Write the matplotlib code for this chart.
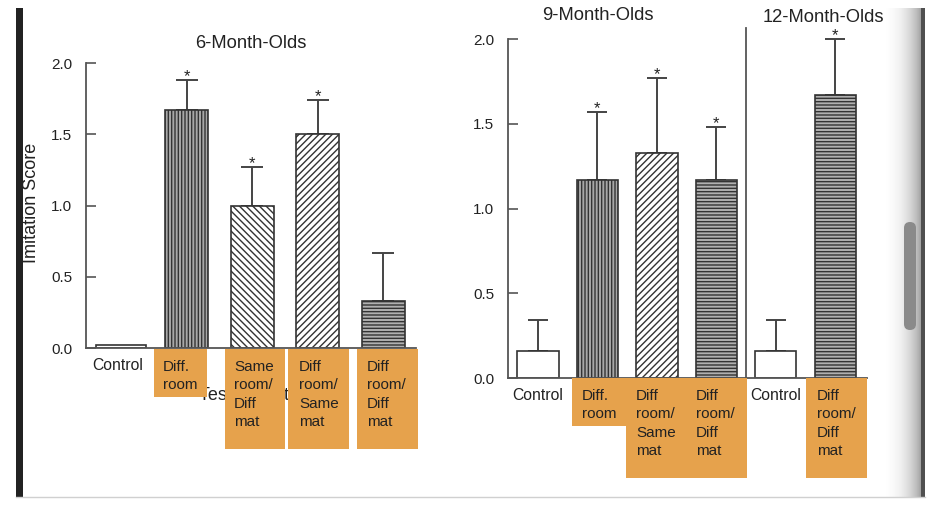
import numpy as np
import matplotlib
matplotlib.use('Agg')
import matplotlib.pyplot as plt
from matplotlib.patches import Rectangle, FancyBboxPatch

plt.rcParams['font.family'] = ['Liberation Sans', 'DejaVu Sans']
plt.rcParams['hatch.linewidth'] = 1.0

# data
six_labels = ['Control', 'Diff.\nroom', 'Same\nroom/\nDiff\nmat', 'Diff\nroom/\nSame\nmat', 'Diff\nroom/\nDiff\nmat']
six_means = [0.02, 1.67, 1.00, 1.50, 0.33]
six_upper = [np.nan, 1.88, 1.27, 1.74, 0.67]
six_star = [False, True, True, True, False]

nine_labels = ['Control', 'Diff.\nroom', 'Diff\nroom/\nSame\nmat', 'Diff\nroom/\nDiff\nmat']
nine_means = [0.16, 1.17, 1.33, 1.17]
nine_upper = [0.34, 1.57, 1.77, 1.48]
nine_star = [False, True, True, True]

twelve_labels = ['Control', 'Diff\nroom/\nDiff\nmat']
twelve_means = [0.16, 1.67]
twelve_upper = [0.34, 2.00]
twelve_star = [False, True]

yticks = [0.0, 0.5, 1.0, 1.5, 2.0]

# bar styles: (face, hatch)
style = {
    'Control': ('white', ''),
    'Diff.\nroom': ('#a8a8a8', '|||||'),
    'Same\nroom/\nDiff\nmat': ('white', '\\\\\\\\\\'),
    'Diff\nroom/\nSame\nmat': ('white', '/////'),
    'Diff\nroom/\nDiff\nmat': ('#b0b0b0', '-----'),
}

W, H = 943, 511
fig = plt.figure(figsize=(W / 100, H / 100), dpi=100)
fig.patch.set_facecolor('white')


def px_rect(x0, y_top, x1, y_bot):
    return [x0 / W, 1 - y_bot / H, (x1 - x0) / W, (y_bot - y_top) / H]


def style_axes(ax, pad):
    for s in ['top', 'right']:
        ax.spines[s].set_visible(False)
    for s in ['left', 'bottom']:
        ax.spines[s].set_color('#555555')
        ax.spines[s].set_linewidth(1.3)
    ax.set_ylim(0, 2.0)
    ax.set_yticks(yticks)
    ax.set_yticklabels([f'{t:.1f}' for t in yticks])
    ax.tick_params(axis='y', direction='in', length=7, width=1.2, color='#555555',
                   labelsize=11, labelcolor='#222222', pad=pad)
    ax.tick_params(axis='x', length=0, labelsize=11.3, labelcolor='#222222', pad=7)
    ax.patch.set_alpha(0)


def draw_bars(ax, pos, labels, means, upper, stars, widths, capsize):
    for x, lab, m, w in zip(pos, labels, means, widths):
        face, hatch = style[lab]
        ax.bar(x, m, width=w, color=face, edgecolor='#333333', hatch=hatch, linewidth=1.2, zorder=2)
    up = np.array(upper, dtype=float)
    mean = np.array(means, dtype=float)
    ok = ~np.isnan(up)
    ax.errorbar(np.array(pos)[ok], mean[ok], yerr=[np.zeros(ok.sum()), (up - mean)[ok]],
                fmt='none', ecolor='#444444', elinewidth=1.4, capsize=capsize, capthick=1.4,
                zorder=1, clip_on=False)
    for x, u, s in zip(pos, up, stars):
        if s:
            ax.annotate('*', (x, u), xytext=(0, -3), textcoords='offset points',
                        ha='center', va='bottom', fontsize=12, color='#222222',
                        annotation_clip=False)


# 6-month panel
ax1 = fig.add_axes(px_rect(86, 63, 416, 348))
pos1 = np.arange(len(six_labels))
ax1.set_xlim(-0.534, 4.50)
draw_bars(ax1, pos1, six_labels, six_means, six_upper, six_star,
          [0.76] + [0.655] * 4, 8)
style_axes(ax1, 10)
ax1.set_xticks([-0.05])
ax1.set_xticklabels(['Control'])
ax1.set_title('6-Month-Olds', fontsize=13.2, color='#222222', pad=11)

# 9 and 12-month panel
ax2 = fig.add_axes(px_rect(508, 39, 867, 378))
pos2 = np.arange(len(nine_labels) + len(twelve_labels))
ax2.set_xlim(-0.504, 5.53)
draw_bars(ax2, pos2, nine_labels + twelve_labels, nine_means + twelve_means,
          nine_upper + twelve_upper, nine_star + twelve_star, [0.69] * 6, 7)
style_axes(ax2, 10)
ax2.set_xticks([0, len(nine_labels)])
ax2.set_xticklabels(['Control', 'Control'])
ax2.axvline(len(nine_labels) - 0.5, ymin=0, ymax=1.033, color='#555555', lw=1.3, clip_on=False)

# overlay in pixel coordinates for the screenshot decorations
ov = fig.add_axes([0, 0, 1, 1])
ov.set_xlim(0, W)
ov.set_ylim(H, 0)
ov.axis('off')
ov.patch.set_alpha(0)
ov.set_zorder(10)

ov.text(598, 15, '9-Month-Olds', fontsize=13.2, color='#222222', ha='center', va='center')
ov.text(823, 18, '12-Month-Olds', fontsize=13.2, color='#222222', ha='center', va='center')
ov.text(31, 203, 'Imitation Score', fontsize=13, color='#222222', rotation=90,
        ha='center', va='center')
ov.text(256, 396, 'Test Condition', fontsize=13, color='#222222', ha='center', va='center')

orange = '#e6a24c'
boxes = [(154, 349, 207, 397), (225, 349, 285, 449), (288, 349, 349, 449), (357, 349, 418, 449),
         (572, 378, 626, 426), (626, 378, 747, 478), (806, 378, 867, 478)]
for x0, y0, x1, y1 in boxes:
    ov.add_patch(Rectangle((x0, y0), x1 - x0, y1 - y0, facecolor=orange, edgecolor='none', zorder=3))

box_text_x = [163, 234, 299, 367]
for x, lab in zip(box_text_x, six_labels[1:]):
    ov.text(x, 360, lab, fontsize=11, color='#222222', ha='left', va='top',
            linespacing=1.4, zorder=4)
box_text_x2 = [582, 636, 696, 817]
for x, lab in zip(box_text_x2, nine_labels[1:] + twelve_labels[1:]):
    ov.text(x, 389, lab, fontsize=11, color='#222222', ha='left', va='top',
            linespacing=1.4, zorder=4)

# window chrome
ov.add_patch(Rectangle((16, 8), 7, 489, facecolor='#222222', edgecolor='none', zorder=5))
grad = np.linspace(0, 1, 64)[None, :] ** 1.6
ov.imshow(grad, cmap='Greys', vmin=0, vmax=2.2, extent=(884, 921, 497, 8), aspect='auto', zorder=1)
ov.add_patch(Rectangle((921, 8), 4, 489, facecolor='#505050', edgecolor='none', zorder=5))
ov.plot([16, 925], [497.5, 497.5], color='#d0d0d0', lw=1, zorder=5)
ov.add_patch(FancyBboxPatch((904, 222), 12, 108, boxstyle='round,pad=0,rounding_size=6',
                            facecolor='#8a8a8a', edgecolor='none', zorder=6))
ov.set_xlim(0, W)
ov.set_ylim(H, 0)

fig.savefig('out.png', dpi=100)
